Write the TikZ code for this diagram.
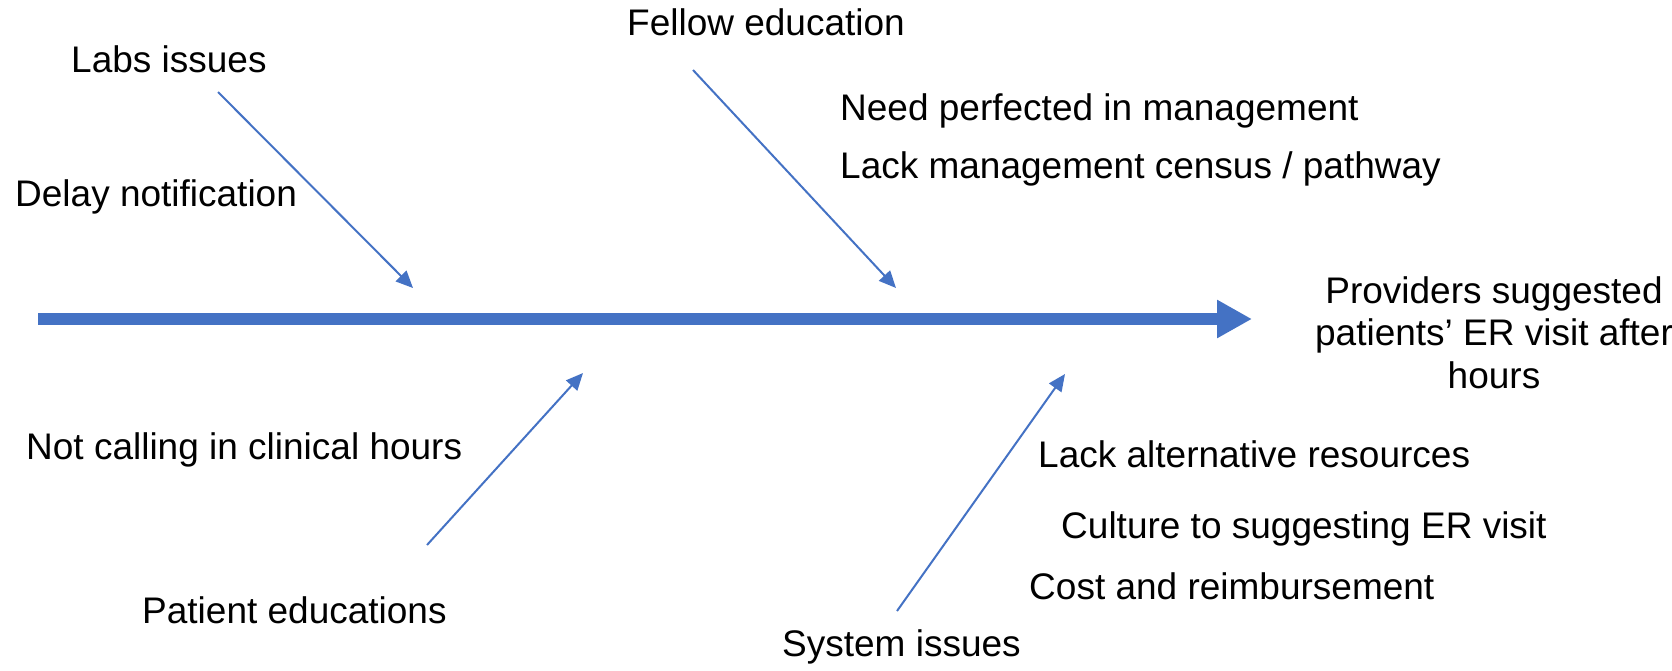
\documentclass[tikz,border=0pt]{standalone}
\usepackage{fontspec}
\setmainfont{Liberation Sans}
\usetikzlibrary{arrows.meta}
\definecolor{spineblue}{HTML}{4472C4}
\begin{document}
\begin{tikzpicture}[x=1pt,y=-1pt,
  label/.style={anchor=base west,inner sep=0pt,font=\fontsize{37}{42.5}\selectfont},
  spine/.style={draw=spineblue,line width=12pt,-{Triangle[length=35pt,width=36pt]}},
  bone/.style={draw=spineblue,line width=2pt,-{Triangle[length=17pt,width=15pt]}}]
\useasboundingbox (0,0) rectangle (1672,670);

% cause labels above the spine
\node[label] (labs)   at (71,72)   {Labs issues};
\node[label] (delay)  at (15,206)  {Delay notification};
\node[label] (fellow) at (627,35)  {Fellow education};
\node[label] (need)   at (840,120) {Need perfected in management};
\node[label] (lackm)  at (840,178) {Lack management census / pathway};

% cause labels below the spine
\node[label] (notcall) at (26,459)   {Not calling in clinical hours};
\node[label] (pated)   at (142,623)  {Patient educations};
\node[label] (lacka)   at (1038,467) {Lack alternative resources};
\node[label] (culture) at (1061,538) {Culture to suggesting ER visit};
\node[label] (cost)    at (1029,599) {Cost and reimbursement};
\node[label] (system)  at (782,656)  {System issues};

% effect (anchored on the baseline of its last line)
\node[anchor=base,inner sep=0pt,align=center,font=\fontsize{37}{42.5}\selectfont]
  (effect) at (1494,388) {Providers suggested\\patients’ ER visit after\\hours};

% spine and bone end points
\coordinate (s0) at (38,319);
\coordinate (s1) at (1252,319);
\coordinate (labsA) at (218,92);   \coordinate (labsB) at (413,288);
\coordinate (fellA) at (693,70);   \coordinate (fellB) at (896,288);
\coordinate (patA)  at (427,545);  \coordinate (patB)  at (583,373);
\coordinate (sysA)  at (897,611);  \coordinate (sysB)  at (1065,374);

\draw[spine] (s0) -- (s1);
\draw[bone] (labsA) -- (labsB);
\draw[bone] (fellA) -- (fellB);
\draw[bone] (patA) -- (patB);
\draw[bone] (sysA) -- (sysB);
\end{tikzpicture}
\end{document}
